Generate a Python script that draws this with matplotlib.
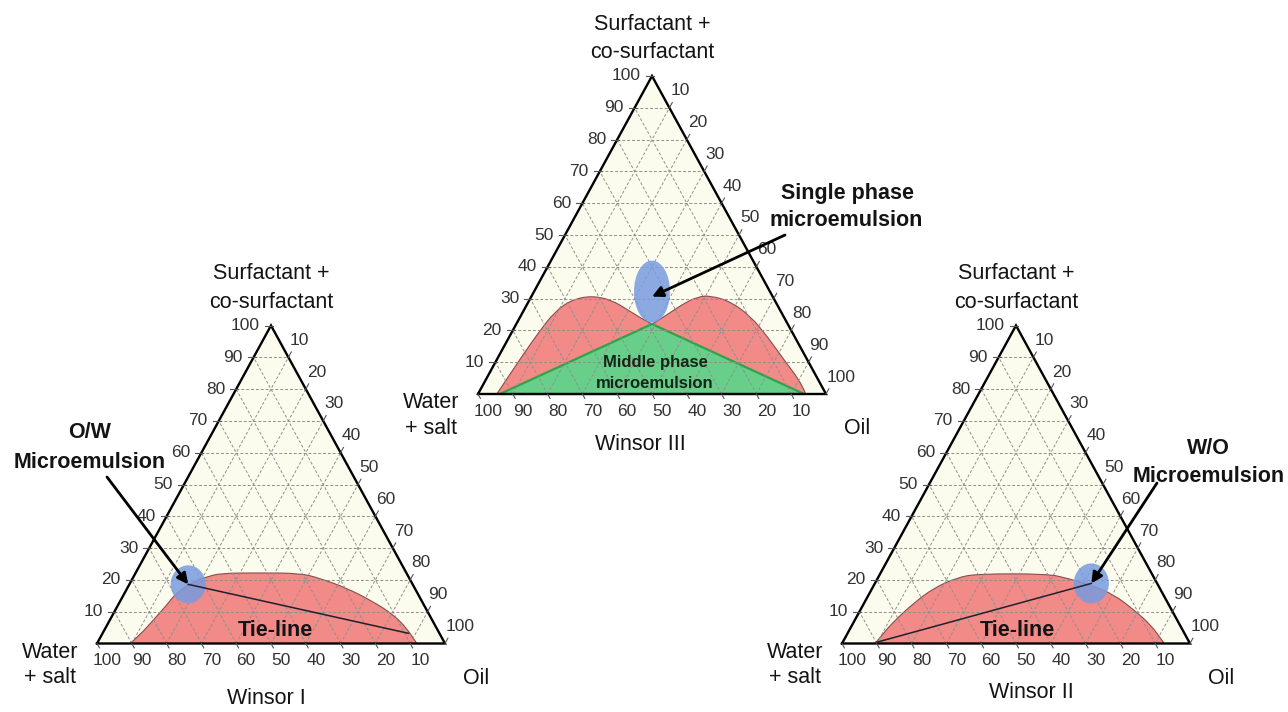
import numpy as np
import matplotlib
matplotlib.use("Agg")
import matplotlib.pyplot as plt
from matplotlib.patches import Polygon, Ellipse, PathPatch
from matplotlib.path import Path

plt.rcParams["font.family"] = ["Liberation Sans", "DejaVu Sans"]

# =========================
# 1. DATA (ternary %, S = surfactant + co-surfactant, O = oil)
# =========================
AXIS_TICKS = [10, 20, 30, 40, 50, 60, 70, 80, 90, 100]
BOTTOM_TICKS = [100, 90, 80, 70, 60, 50, 40, 30, 20, 10]

# Winsor I binodal (lower-phase microemulsion)
W1_SURF = [0, 2.7, 7.4, 12.1, 16.2, 19.7, 20.9, 22.1, 22.2, 22.1, 20.5, 17.4, 13.1, 9.0, 4.8, 0]
W1_OIL = [9.5, 11.0, 12.5, 14.0, 14.9, 18.3, 21.1, 24.3, 35.7, 47.3, 53.8, 63.1, 72.9, 80.7, 86.6, 91.9]
W1_TIE_SURF = [18.6, 3.2]
W1_TIE_OIL = [16.9, 87.9]
W1_SPOT = (18.6, 16.9)

# Winsor II binodal (upper-phase microemulsion)
W2_SURF = [0, 3.2, 6.9, 12.6, 17.4, 20.7, 21.9, 21.9, 20.5, 18.4, 15.3, 10.5, 5.8, 0]
W2_OIL = [9.5, 10.3, 11.4, 14.2, 17.6, 22.7, 27.9, 48.1, 54.5, 62.3, 70.6, 78.7, 85.9, 92.6]
W2_TIE_SURF = [0.4, 18.9]
W2_TIE_OIL = [9.8, 62.2]
W2_SPOT = (18.9, 62.2)

# Winsor III two-phase lobes and three-phase triangle
W3_LEFT_SURF = [0, 5.4, 11.7, 19.1, 25.9, 29.6, 30.9, 29.6, 26.4, 23.8, 22.0]
W3_LEFT_OIL = [5.4, 6.0, 6.7, 7.7, 9.1, 12.1, 17.1, 23.5, 29.9, 35.0, 39.0]
W3_RIGHT_SURF = [22.0, 24.3, 28.0, 30.6, 30.9, 29.0, 24.3, 18.0, 10.7, 4.4, 0]
W3_RIGHT_OIL = [39.0, 41.4, 44.4, 47.8, 51.5, 58.2, 66.3, 74.2, 82.6, 90.1, 94.2]
W3_MIDDLE_SURF = [0, 22.0, 0]
W3_MIDDLE_OIL = [6.3, 39.0, 93.7]
W3_SPOT = (32.2, 33.9)

# =========================
# 2. LAYOUT / STYLE (pixels)
# =========================
TRI_W = 348
TRI_H = 318
ORIGIN_I = (97, 643.5)
ORIGIN_III = (478, 394)
ORIGIN_II = (842, 643.5)

CREAM = "#fcfcee"
RED = "#f28a87"
RED_EDGE = "#8a4b4b"
GREEN = "#68cf8a"
GREEN_EDGE = "#2ea34a"
BLUE = "#789be0"
TXT = "#141414"
TICK_TXT = "#333333"
GRID = "#8f8f8f"


def to_xy(s, o, origin):
    s = np.asarray(s, dtype=float)
    o = np.asarray(o, dtype=float)
    x = origin[0] + TRI_W * (o + s / 2) / 100
    y = origin[1] - TRI_H * s / 100
    return x, y


def curve_segments(x, y):
    # quadratic bezier through the midpoints, read points used as controls
    verts = [(x[0], y[0])]
    codes = [Path.MOVETO]
    for i in range(1, len(x) - 1):
        verts += [(x[i], y[i]), ((x[i] + x[i + 1]) / 2, (y[i] + y[i + 1]) / 2)]
        codes += [Path.CURVE3, Path.CURVE3]
    verts.append((x[-1], y[-1]))
    codes.append(Path.LINETO)
    return verts, codes


def add_region(curves, origin, z=1):
    verts, codes = [], []
    for s, o in curves:
        x, y = to_xy(s, o, origin)
        v, c = curve_segments(x, y)
        if verts:
            c = [Path.LINETO] + c[1:]
        verts += v
        codes += c
    outline = Path(verts, codes)
    ax.add_patch(PathPatch(Path(verts + [verts[0]], codes + [Path.CLOSEPOLY]),
                           facecolor=RED, edgecolor="none", zorder=z))
    ax.add_patch(PathPatch(outline, facecolor="none", edgecolor=RED_EDGE,
                           lw=0.8, zorder=z + 0.2))


fig = plt.figure(figsize=(12.88, 7.12), dpi=100)
ax = fig.add_axes([0, 0, 1, 1])
ax.set_xlim(0, 1288)
ax.set_ylim(712, 0)
ax.axis("off")


def draw_frame(origin):
    xs, ys = to_xy([0, 0, 100], [0, 100, 0], origin)
    ax.add_patch(Polygon(np.column_stack([xs, ys]), closed=True,
                         facecolor=CREAM, edgecolor="none", zorder=0))


def draw_grid(origin):
    for k in range(10, 100, 10):
        # constant surfactant
        x, y = to_xy([k, k], [0, 100 - k], origin)
        ax.plot(x, y, color=GRID, lw=0.7, ls=(0, (3, 2)), zorder=2)
        # constant oil
        x, y = to_xy([0, 100 - k], [k, k], origin)
        ax.plot(x, y, color=GRID, lw=0.7, ls=(0, (3, 2)), zorder=2)
        # constant water
        x, y = to_xy([0, 100 - k], [100 - k, 0], origin)
        ax.plot(x, y, color=GRID, lw=0.7, ls=(0, (3, 2)), zorder=2)

    xs, ys = to_xy([0, 0, 100, 0], [0, 100, 0, 0], origin)
    ax.plot(xs, ys, color="black", lw=1.7, solid_joinstyle="miter", zorder=3)

    # direction of the slanted edges in pixel space
    ux, uy = 0.5 * TRI_W, TRI_H
    norm = np.hypot(ux, uy)
    ux, uy = ux / norm, uy / norm

    for k in AXIS_TICKS:
        # left axis (surfactant)
        x, y = to_xy(k, 0, origin)
        ax.plot([x - 6, x + 2], [y, y], color="#555555", lw=0.8, zorder=3)
        ax.text(x - 11, y, str(k), ha="right", va="center",
                fontsize=12.5, color=TICK_TXT)
        # right axis (oil)
        x, y = to_xy(100 - k, k, origin)
        ax.plot([x, x + 6 * ux], [y, y - 6 * uy], color="#555555", lw=0.8, zorder=3)
        ax.text(x + 1, y - 17, str(k), ha="left", va="center",
                fontsize=12.5, color=TICK_TXT)

    for k in BOTTOM_TICKS:
        # bottom axis (water + salt)
        x, y = to_xy(0, 100 - k, origin)
        ax.plot([x, x + 5 * ux], [y, y + 5 * uy], color="#555555", lw=0.8, zorder=3)
        ax.text(x + 10, y + 17, str(k), ha="center", va="center",
                fontsize=12.5, color=TICK_TXT)


def draw_labels(origin, title, title_pos):
    ax_x, ax_y = to_xy(100, 0, origin)
    ax.text(ax_x, ax_y - 52, "Surfactant +", ha="center", va="center",
            fontsize=15.5, color=TXT)
    ax.text(ax_x, ax_y - 23, "co-surfactant", ha="center", va="center",
            fontsize=15.5, color=TXT)
    lx, ly = to_xy(0, 0, origin)
    ax.text(lx - 47, ly + 9, "Water", ha="center", va="center",
            fontsize=15.5, color=TXT)
    ax.text(lx - 47, ly + 34, "+ salt", ha="center", va="center",
            fontsize=15.5, color=TXT)
    rx, ry = to_xy(0, 100, origin)
    ax.text(rx + 31, ry + 35, "Oil", ha="center", va="center",
            fontsize=15.5, color=TXT)
    ax.text(title_pos[0], title_pos[1], title, ha="center", va="center",
            fontsize=15.5, color=TXT)


def draw_spot(center, origin, w, h):
    cx, cy = to_xy(center[0], center[1], origin)
    ax.add_patch(Ellipse((cx, cy), w, h, facecolor=BLUE, edgecolor="none",
                         alpha=0.85, zorder=4))
    return cx, cy


def draw_arrow(tip, start):
    ax.annotate("", xy=tip, xytext=start,
                arrowprops=dict(arrowstyle="-|>", color="black", lw=2,
                                mutation_scale=16, shrinkA=0, shrinkB=0),
                zorder=6)


# =========================
# 3. WINSOR I
# =========================
draw_frame(ORIGIN_I)
add_region([(W1_SURF, W1_OIL)], ORIGIN_I)
draw_grid(ORIGIN_I)
spot = draw_spot(W1_SPOT, ORIGIN_I, 35, 38)
x, y = to_xy(W1_TIE_SURF, W1_TIE_OIL, ORIGIN_I)
ax.plot(x, y, color="#202030", lw=1.1, zorder=5)
draw_arrow(spot, (107, 477))
ax.text(90, 433, "O/W", ha="center", va="center", fontsize=15.5,
        fontweight="bold", color=TXT)
ax.text(90, 462, "Microemulsion", ha="center", va="center", fontsize=15.5,
        fontweight="bold", color=TXT)
ax.text(275, 630, "Tie-line", ha="center", va="center", fontsize=15.5,
        fontweight="bold", color=TXT, zorder=6)
draw_labels(ORIGIN_I, "Winsor I", (266, 698))

# =========================
# 4. WINSOR III
# =========================
draw_frame(ORIGIN_III)
add_region([(W3_LEFT_SURF, W3_LEFT_OIL), (W3_RIGHT_SURF, W3_RIGHT_OIL)], ORIGIN_III)
x, y = to_xy(W3_MIDDLE_SURF, W3_MIDDLE_OIL, ORIGIN_III)
ax.add_patch(Polygon(np.column_stack([x, y]), closed=True, facecolor=GREEN,
                     edgecolor=GREEN_EDGE, lw=1.6, zorder=1.5))
draw_grid(ORIGIN_III)
spot = draw_spot(W3_SPOT, ORIGIN_III, 36, 62)
draw_arrow((spot[0], spot[1] + 5), (785, 235))
ax.text(848, 193, "Single phase", ha="center", va="center", fontsize=15.5,
        fontweight="bold", color=TXT)
ax.text(846, 221, "microemulsion", ha="center", va="center", fontsize=15.5,
        fontweight="bold", color=TXT)
ax.text(655, 362, "Middle phase", ha="center", va="center", fontsize=12,
        fontweight="bold", color="#18241a", zorder=6)
ax.text(655, 383, "microemulsion", ha="center", va="center", fontsize=12,
        fontweight="bold", color="#18241a", zorder=6)
draw_labels(ORIGIN_III, "Winsor III", (640, 445))

# =========================
# 5. WINSOR II
# =========================
draw_frame(ORIGIN_II)
add_region([(W2_SURF, W2_OIL)], ORIGIN_II)
draw_grid(ORIGIN_II)
spot = draw_spot(W2_SPOT, ORIGIN_II, 35, 40)
x, y = to_xy(W2_TIE_SURF, W2_TIE_OIL, ORIGIN_II)
ax.plot(x, y, color="#202030", lw=1.1, zorder=5)
draw_arrow(spot, (1157, 483))
ax.text(1208, 448, "W/O", ha="center", va="center", fontsize=15.5,
        fontweight="bold", color=TXT)
ax.text(1209, 476, "Microemulsion", ha="center", va="center", fontsize=15.5,
        fontweight="bold", color=TXT)
ax.text(1017, 630, "Tie-line", ha="center", va="center", fontsize=15.5,
        fontweight="bold", color=TXT, zorder=6)
draw_labels(ORIGIN_II, "Winsor II", (1031, 693))

fig.savefig("out.png", dpi=100, facecolor="white")
